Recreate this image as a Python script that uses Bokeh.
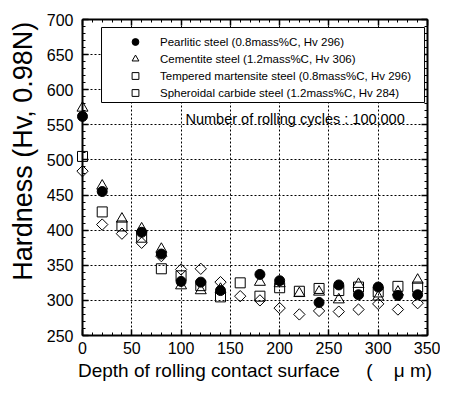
import numpy as np
from bokeh.plotting import figure
from bokeh.models import (LinearAxis, Range1d, Legend, LegendItem, Label,
                          SingleIntervalTicker, BoxAnnotation)
from bokeh.embed import file_html
from bokeh.resources import INLINE

nan = np.nan
depth = np.array([0, 20, 40, 60, 80, 100, 120, 140, 160, 180, 200, 220, 240, 260, 280, 300, 320, 340], dtype=float)
pearlitic = np.array([562, 455, nan, 397, 366, 327, 326, 314, nan, 337, 328, nan, 297, 322, 308, 319, 307, 308], dtype=float)
cementite = np.array([574, 463, 416, 402, 373, 321, 314, 316, nan, 326, 324, 310, 312, 301, 323, 305, 312, 329], dtype=float)
tempered = np.array([505, 426, 406, 390, 345, 335, 321, 305, 325, 306, 318, 313, 317, 314, 319, 312, 320, 319], dtype=float)
spheroidal = np.array([484, 408, 395, 382, 363, 344, 345, 326, 306, 300, 289, 280, 285, 284, 287, 295, 287, 296], dtype=float)

labels = ["Pearlitic steel (0.8mass%C, Hv 296)",
          "Cementite steel (1.2mass%C, Hv 306)",
          "Tempered martensite steel (0.8mass%C, Hv 296)",
          "Spheroidal carbide steel (1.2mass%C, Hv 284)"]
note = "Number of rolling cycles : 100,000"
NB = "\u00a0"
x_title = "Depth of rolling contact surface" + NB * 5 + "(" + NB * 4 + "\u03bc" + NB + "m)"
y_title = NB * 7 + "Hardness (Hv, 0.98N)"

FONT = "Liberation Sans"

p = figure(width=440, height=385, output_backend="svg", toolbar_location=None,
           x_range=Range1d(0, 350), y_range=Range1d(250, 700),
           min_border_left=82, min_border_right=13, min_border_top=19, min_border_bottom=50,
           x_axis_label=x_title, y_axis_label=y_title)
p.outline_line_color = None
p.background_fill_color = "white"
p.border_fill_color = "white"

bottom = p.below[0]
left = p.left[0]

xt = SingleIntervalTicker(interval=50, num_minor_ticks=5)
yt = SingleIntervalTicker(interval=50, num_minor_ticks=5)
bottom.ticker = xt
left.ticker = yt

top = LinearAxis(ticker=xt)
right = LinearAxis(ticker=yt)
p.add_layout(top, "above")
p.add_layout(right, "right")

for ax in [bottom, left, top, right]:
    ax.axis_line_color = "black"
    ax.axis_line_width = 2
    ax.major_tick_in = 6
    ax.major_tick_out = 0
    ax.minor_tick_in = 3
    ax.minor_tick_out = 0
    ax.major_tick_line_color = "black"
    ax.major_tick_line_width = 1.5
    ax.minor_tick_line_color = "black"
    ax.minor_tick_line_width = 1
    ax.major_label_text_font = FONT
    ax.major_label_text_font_size = "16px"
    ax.major_label_text_color = "black"
    ax.axis_label_text_font = FONT
    ax.axis_label_text_font_style = "normal"
    ax.axis_label_text_color = "black"

for ax in [top, right]:
    ax.major_label_text_font_size = "1px"
    ax.major_label_text_color = None
    ax.major_label_standoff = 0

bottom.major_label_standoff = 6
left.major_label_standoff = 9
bottom.axis_label_text_font_size = "19px"
left.axis_label_text_font_size = "27px"
bottom.axis_label_standoff = 3
left.axis_label_standoff = 6

for g in [p.xgrid[0], p.ygrid[0]]:
    g.grid_line_color = "black"
    g.grid_line_dash = "2 2"
    g.grid_line_width = 1

r1 = p.scatter(depth, pearlitic, marker="circle", size=10, fill_color="black",
               line_color="black", level="overlay")
r2 = p.scatter(depth, cementite, marker="triangle", size=11, fill_color=None,
               line_color="black", line_width=1, level="overlay")
r3 = p.scatter(depth, tempered, marker="square", size=10, fill_color=None,
               line_color="black", line_width=1, level="overlay")
r4 = p.scatter(depth, spheroidal, marker="square", angle=np.pi / 4, size=8,
               fill_color=None, line_color="black", line_width=1, level="overlay")

# legend frame (white box behind the legend entries)
p.add_layout(BoxAnnotation(left=19.3, right=347, top=688.6, bottom=581.8,
                           fill_color="white", fill_alpha=1,
                           line_color="black", line_width=1, line_alpha=1))

legend = Legend(items=[LegendItem(label=labels[0], renderers=[r1]),
                       LegendItem(label=labels[1], renderers=[r2]),
                       LegendItem(label=labels[2], renderers=[r3]),
                       LegendItem(label=labels[3], renderers=[r4])],
                location=(44, 234), orientation="vertical",
                glyph_width=18, glyph_height=17, label_height=17,
                spacing=0, padding=0, label_standoff=16, margin=0,
                label_text_font=FONT, label_text_font_size="11.5px",
                label_text_color="black",
                border_line_color=None, background_fill_alpha=0)
p.add_layout(legend, "center")

p.add_layout(Label(x=104.5, y=559, text=note, text_font=FONT, text_font_size="14.5px",
                   text_baseline="middle", text_color="black"))

open("out.html", "w").write(file_html(p, INLINE))
